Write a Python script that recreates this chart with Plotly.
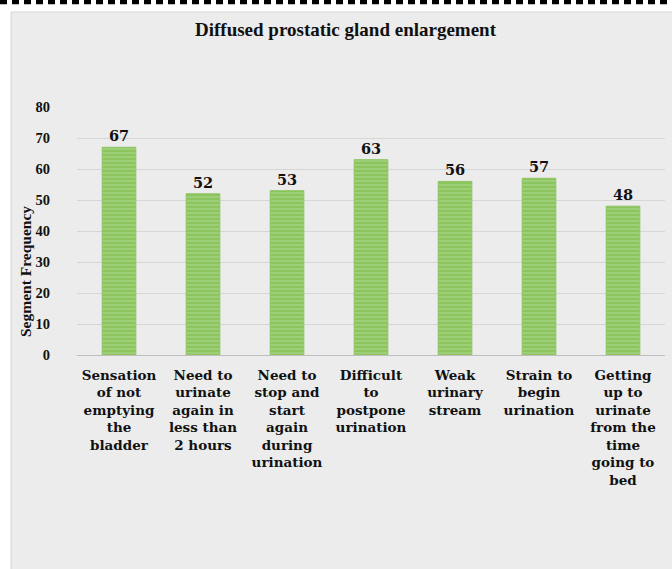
import plotly.graph_objects as go

categories = [
    "Sensation<br>of not<br>emptying<br>the<br>bladder",
    "Need to<br>urinate<br>again in<br>less than<br>2 hours",
    "Need to<br>stop and<br>start<br>again<br>during<br>urination",
    "Difficult<br>to<br>postpone<br>urination",
    "Weak<br>urinary<br>stream",
    "Strain to<br>begin<br>urination",
    "Getting<br>up to<br>urinate<br>from the<br>time<br>going to<br>bed",
]
values = [67, 52, 53, 63, 56, 57, 48]
y_ticks = [0, 10, 20, 30, 40, 50, 60, 70, 80]

W, H = 672, 569
L, R, T, B = 77, 7, 107, 214
pw, ph = W - L - R, H - T - B

def px(x):
    return (x - L) / pw

def py(y):
    return (H - B - y) / ph

serif = "Liberation Serif, Times New Roman, serif"
wide = "DejaVu Serif, serif"

fig = go.Figure()
fig.add_trace(go.Bar(
    x=list(range(len(categories))),
    y=values,
    width=0.4,
    marker=dict(
        color="#8cc45e",
        line=dict(color="#8cc45e", width=1),
        pattern=dict(shape="-", fgcolor="#b6da96", bgcolor="#8cc45e", size=4, solidity=0.45),
    ),
    text=[f"<b>{v}</b>" for v in values],
    textposition="outside",
    textfont=dict(family=wide, size=14.5, color="#111111"),
    cliponaxis=False,
    hoverinfo="skip",
))

shapes = [
    dict(type="rect", xref="paper", yref="paper",
         x0=px(11), x1=px(673), y0=py(570), y1=py(12),
         fillcolor="#ececec", line=dict(color="#d4d4d4", width=1), layer="below"),
    dict(type="line", xref="paper", yref="paper",
         x0=px(0), x1=px(672), y0=py(2), y1=py(2),
         line=dict(color="black", width=4.5, dash="7px,5px")),
]

fig.update_layout(
    width=W, height=H,
    margin=dict(l=L, r=R, t=T, b=B),
    paper_bgcolor="white",
    plot_bgcolor="rgba(0,0,0,0)",
    shapes=shapes,
    showlegend=False,
    annotations=[
        dict(text="<b>Diffused prostatic gland enlargement</b>", xref="paper", yref="paper",
             x=px(346), y=py(29), xanchor="center", yanchor="middle", showarrow=False,
             font=dict(family=serif, size=19, color="#111111")),
        dict(text="<b>Segment Frequency</b>", xref="paper", yref="paper",
             x=px(25), y=py(272), xanchor="center", yanchor="middle", textangle=-90,
             showarrow=False, font=dict(family=serif, size=15.5, color="#111111")),
    ],
    xaxis=dict(
        tickmode="array", tickvals=list(range(len(categories))),
        ticktext=[f"<b>{c}</b>" for c in categories],
        tickfont=dict(family=wide, size=13.5, color="#111111"),
        range=[-0.5, len(categories) - 0.5],
        showgrid=False, zeroline=False, showline=False, ticks="", tickangle=0,
        ticklabelstandoff=10,
    ),
    yaxis=dict(
        range=[0, 80], tickmode="array", tickvals=y_ticks,
        ticktext=[f"<b>{t}</b>" for t in y_ticks],
        tickfont=dict(family=serif, size=14.5, color="#111111"),
        showgrid=True, gridcolor="#d6d6d6", gridwidth=1,
        zeroline=True, zerolinecolor="#bfbfbf", zerolinewidth=1,
        showline=False, ticks="", ticklen=0, ticklabelstandoff=26,
    ),
)

fig.write_html("out.html")
